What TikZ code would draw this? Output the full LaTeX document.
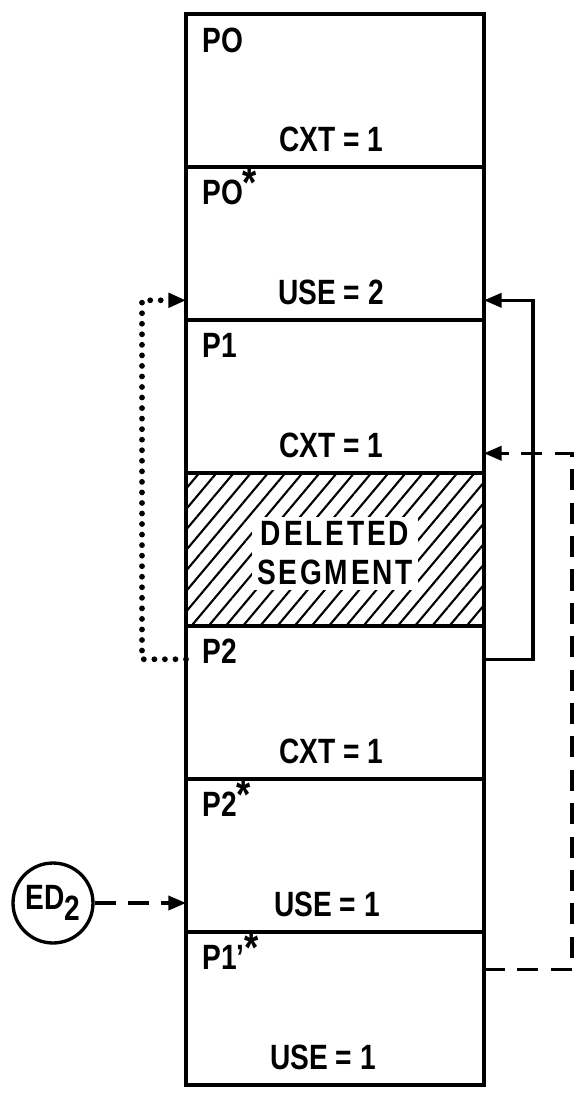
\documentclass[tikz,border=0pt]{standalone}
\usepackage{fontspec}
\setmainfont{Liberation Sans}[FakeStretch=0.8]
\usetikzlibrary{arrows.meta, positioning, patterns.meta}

\newcommand{\segstar}{\raisebox{.35ex}{\fontsize{26}{26}\selectfont *}}

\tikzset{
  seg/.style={draw, line width=2pt, minimum width=5.96cm, minimum height=3.06cm, inner sep=0pt, outer sep=0pt},
  lbl/.style={font=\fontsize{20}{22}\selectfont\bfseries, inner sep=0pt},
  link/.style={line width=1.9pt},
  dotlink/.style={line width=3.3pt, line cap=round, dash pattern=on 0pt off 6pt},
  dashlink/.style={line width=1.9pt, dash pattern=on 12pt off 7pt},
  arrowhd/.style={-{Triangle[length=10pt,width=8pt]}},
}

\begin{document}
\begin{tikzpicture}[x=0.02cm, y=-0.02cm]
  \useasboundingbox (0,0) rectangle (582,1100);
  % the segment column
  \node[seg, anchor=north west] (p0) at (186,14) {};
  \node[seg, below=0pt of p0] (p0s) {};
  \node[seg, below=0pt of p0s] (p1) {};
  \node[seg, below=0pt of p1, pattern={Lines[angle=50,distance=7.5pt,line width=1.2pt]}] (del) {};
  \node[seg, below=0pt of del] (p2) {};
  \node[seg, below=0pt of p2] (p2s) {};
  \node[seg, below=0pt of p2s] (p1s) {};
  % names (top left) and counters (bottom)
  \node[lbl, anchor=base west] (p0t) at ([shift={(16,38)}]p0.north west) {PO};
  \node[lbl, anchor=base west] (p0st) at ([shift={(16,38)}]p0s.north west) {PO\segstar};
  \node[lbl, anchor=base west] (p1t) at ([shift={(16,38)}]p1.north west) {P1};
  \node[lbl, anchor=base west] (p2t) at ([shift={(16,38)}]p2.north west) {P2};
  \node[lbl, anchor=base west] (p2st) at ([shift={(16,38)}]p2s.north west) {P2\segstar};
  \node[lbl, anchor=base west] (p1st) at ([shift={(16,38)}]p1s.north west) {P1'\segstar};
  \node[lbl, anchor=base] (p0b) at ([shift={(-4,-15)}]p0.south) {CXT = 1};
  \node[lbl, anchor=base] (p0sb) at ([shift={(-4,-15)}]p0s.south) {USE = 2};
  \node[lbl, anchor=base] (p1b) at ([shift={(-4,-15)}]p1.south) {CXT = 1};
  \node[lbl, anchor=base] (p2b) at ([shift={(-4,-15)}]p2.south) {CXT = 1};
  \node[lbl, anchor=base] (p2sb) at ([shift={(-8,-15)}]p2s.south) {USE = 1};
  \node[lbl, anchor=base] (p1sb) at ([shift={(-12,-15)}]p1s.south) {USE = 1};
  \node[lbl, fill=white, align=center, inner sep=3pt] (deltxt) at ([shift={(0,4)}]del.center)
    {\addfontfeature{LetterSpace=8}DELETED\\\addfontfeature{LetterSpace=8}SEGMENT};
  % links
  \coordinate (dotx) at (142,0);
  \coordinate (solx) at (533,0);
  \coordinate (dshx) at (572,0);
  \draw[dotlink, arrowhd] (p2.west |- p2t.mid) -- (dotx |- p2t.mid) -- (dotx |- p0sb.mid) -- (p0s.west |- p0sb.mid);
  \draw[link, arrowhd] (p2.east |- p2t.mid) -- (solx |- p2t.mid) -- (solx |- p0sb.mid) -- (p0s.east |- p0sb.mid);
  \draw[dashlink, arrowhd] (p1s.east |- p1st.base) -- (dshx |- p1st.base) -- (dshx |- p1b.mid) -- (p1.east |- p1b.mid);
  \node[lbl, draw, circle, line width=1.9pt, minimum size=1.6cm] (ed) at (53,903) {ED\raisebox{-.6ex}{2}};
  \draw[dashlink, arrowhd] (ed) -- (p2s.west |- ed);
\end{tikzpicture}
\end{document}
